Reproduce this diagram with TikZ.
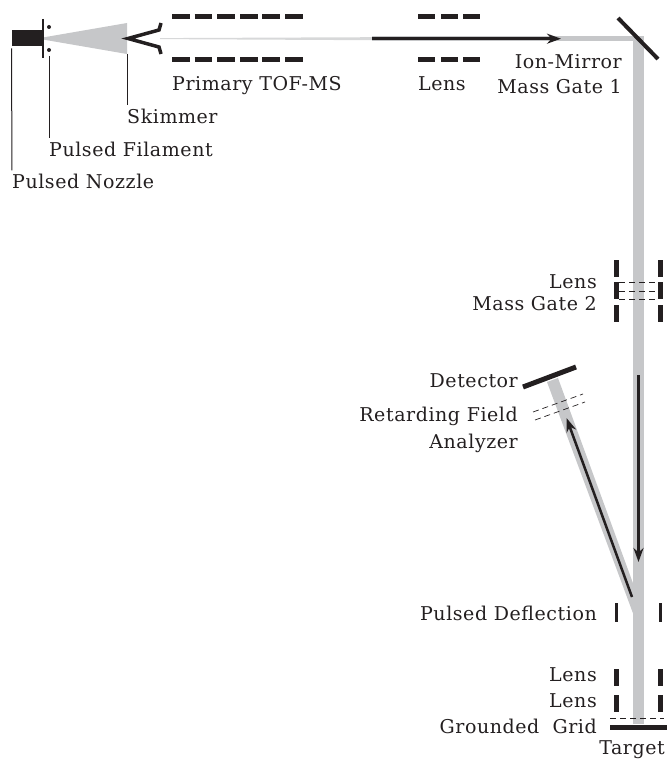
\documentclass[tikz,border=0pt]{standalone}
\usepackage{fontspec}
\setmainfont[LetterSpace=3]{DejaVu Serif}
\usetikzlibrary{arrows.meta}
\definecolor{ink}{HTML}{231F20}
\definecolor{beamgray}{HTML}{C6C7C9}
\tikzset{
  txt/.style={inner sep=0pt,text=ink,font=\fontsize{19}{20}\selectfont},
  lft/.style={txt,anchor=base west},
  rgt/.style={txt,anchor=base east},
  bar/.style={ink,line width=5pt},
  dashbar/.style={ink,line width=5pt},
  griddash/.style={ink,line width=0.7pt,dash pattern=on 6pt off 4pt},
  leader/.style={ink,line width=1pt,shorten >=3pt},
  ray/.style={ink,line width=2.5pt,-{Stealth[length=14pt,width=10pt]}},
}
\begin{document}
\begin{tikzpicture}[x=1pt,y=-1pt]
  \useasboundingbox (0,0) rectangle (668,760);
  % beams
  \fill[beamgray] (37,38.5) -- (127,23) -- (127,54) -- cycle;
  \fill[beamgray!70] (160,38.1) -- (372,37.2) -- (372,40.2) -- (160,39.1) -- cycle;
  \fill[beamgray] (372,36) rectangle (644,41);
  \fill[beamgray] (633,36) rectangle (644,724);
  \fill[beamgray] (547,382) -- (558,378) -- (634,586) -- (634,616) -- cycle;
  % source
  \node[fill=ink,inner sep=0pt,minimum width=30pt,minimum height=16pt,anchor=north west] (nozzle) at (12,30) {};
  \draw[ink,line width=2.5pt] (43,19) -- (43,58);
  \foreach \p in {(49,27),(49,50)}{
    \fill[ink] \p circle (2pt);
  }
  \draw[ink,line width=3.5pt] (161,23) -- (159,30) -- (128,38.5) -- (159,47) -- (161,54);
  % flight tube
  \foreach \x in {172,194.5,217,240,262,285}{
    \draw[dashbar] (\x,17) -- +(17.5,0);
    \draw[dashbar] (\x,60) -- +(17.5,0);
  }
  \foreach \x in {418,441,463}{
    \draw[dashbar] (\x,17) -- +(17,0);
    \draw[dashbar] (\x,60) -- +(17,0);
  }
  \coordinate (mirrorin) at (372,38.7);
  \coordinate (mirrorout) at (561,38.7);
  \draw[ray] (mirrorin) -- (mirrorout);
  \draw[ink,line width=4pt] (618,18) -- (658,59);
  % mass gate 2
  \foreach \y/\l in {260/17,282/17,305/17}{
    \draw[bar] (616.5,\y) -- +(0,\l);
    \draw[bar] (660.5,\y) -- +(0,\l);
  }
  \foreach \y in {282,291,299}{
    \draw[griddash] (619,\y) -- (658,\y);
  }
  % rays to target and back
  \coordinate (downstart) at (638.5,375);
  \coordinate (downend) at (638.5,562);
  \draw[ray] (downstart) -- (downend);
  \coordinate (upstart) at (632,597);
  \coordinate (upend) at (566.5,418);
  \draw[ray] (upstart) -- (upend);
  % detector
  \draw[ink,line width=5pt] (523,387) -- (576,367);
  \draw[griddash] (533,412) -- (583,394);
  \draw[griddash] (535,420) -- (585,402);
  % deflection, lenses, target
  \foreach \x in {616.5,660.5}{
    \draw[ink,line width=3pt] (\x,603) -- (\x,622);
    \draw[bar] (\x,669) -- (\x,686);
    \draw[bar] (\x,695) -- (\x,712);
  }
  \draw[griddash] (610,718) -- (664,718);
  \draw[ink,line width=5pt] (610,727) -- (667,727);
  % labels
  \node[lft] (primary) at (172,90) {Primary TOF-MS};
  \node[lft] (lensa) at (418,90) {Lens};
  \node[rgt] (ionmirror) at (622,69) {Ion-Mirror};
  \node[rgt] (gatea) at (622,93.5) {Mass Gate 1};
  \node[lft] (skimmer) at (127,123) {Skimmer};
  \node[lft] (filament) at (49,156) {Pulsed Filament};
  \node[lft] (nozzlelabel) at (12,188) {Pulsed Nozzle};
  \node[rgt] (lensb) at (597,288) {Lens};
  \node[rgt] (gateb) at (597,310) {Mass Gate 2};
  \node[rgt] (detector) at (518,387) {Detector};
  \node[rgt] (retarding) at (518,421) {Retarding Field};
  \node[rgt] (analyzer) at (518,448) {Analyzer};
  \node[rgt] (deflection) at (597,620) {Pulsed Deflection};
  \node[rgt] (lensc) at (597,681) {Lens};
  \node[rgt] (lensd) at (597,707) {Lens};
  \node[rgt] (grid) at (597,733) {Grounded\ \ Grid};
  \node[rgt] (targetlabel) at (665,754.5) {Target};
  % leaders
  \coordinate (filamentdot) at (49,56);
  \coordinate (skimmertip) at (127,54);
  \draw[leader] (nozzle.south west) ++(-0.5,2) -- (nozzlelabel.north west);
  \draw[leader] (filamentdot) -- (filament.north west);
  \draw[leader] (skimmertip) -- (skimmer.north west);
\end{tikzpicture}
\end{document}
